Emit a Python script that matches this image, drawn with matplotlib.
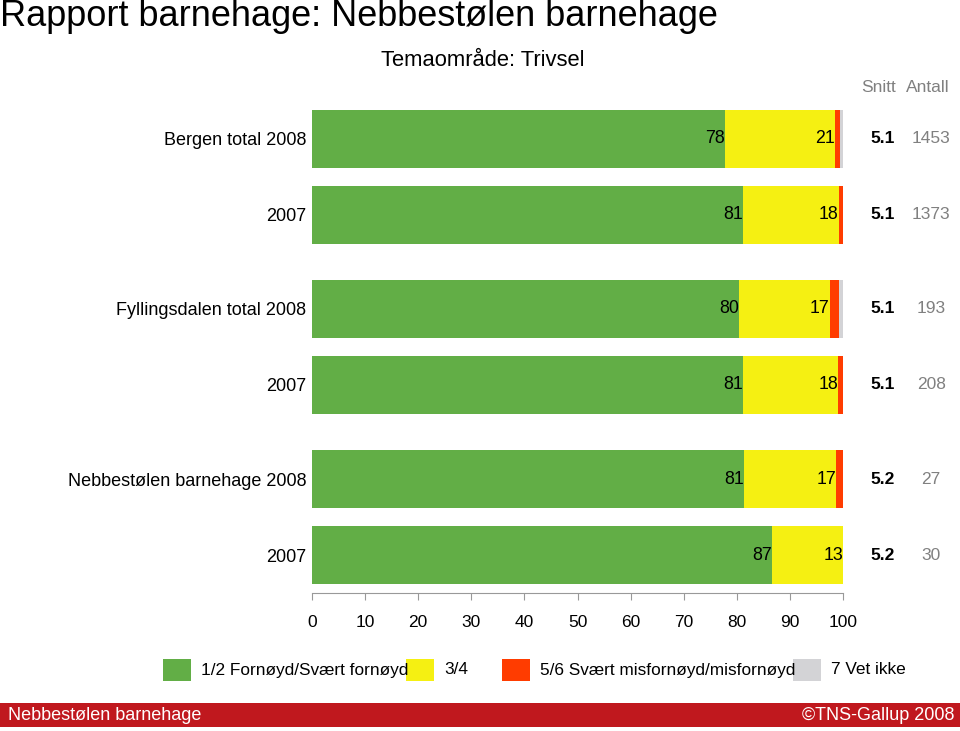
import numpy as np
import matplotlib.pyplot as plt
from matplotlib.patches import Rectangle

plt.rcParams['font.family'] = ['Liberation Sans', 'DejaVu Sans']

groups = ["Bergen total", "Fyllingsdalen total", "Nebbestølen barnehage"]
years = ["2008", "2007"]

satisfied = [77.8, 81.2, 80.4, 81.2, 81.4, 86.7]
neutral = [20.6, 18.0, 17.1, 17.9, 17.3, 13.3]
unsatisfied = [1.0, 0.8, 1.8, 0.9, 1.3, 0.0]
dont_know = [0.6, 0.0, 0.7, 0.0, 0.0, 0.0]

snitt = ["5.1", "5.1", "5.1", "5.1", "5.2", "5.2"]
antall = ["1453", "1373", "193", "208", "27", "30"]

legend_labels = ["1/2 Fornøyd/Svært fornøyd", "3/4", "5/6 Svært misfornøyd/misfornøyd", "7 Vet ikke"]
colors = ["#62AE46", "#F5F012", "#FF3C00", "#D3D3D6"]


def main():
    fig = plt.figure(figsize=(9.6, 7.31), dpi=100)
    W, H = 960, 731

    ax = fig.add_axes([312 / W, 138 / H, 531 / W, 493 / H])

    pos = []
    labels = []
    for g, name in enumerate(groups):
        for s, yr in enumerate(years):
            pos.append(g * 2.237 + s)
            labels.append(name + " " + yr if s == 0 else yr)
    pos = np.array(pos)

    series = [satisfied, neutral, unsatisfied, dont_know]
    left = np.zeros(len(pos))
    for vals, c in zip(series, colors):
        vals = np.array(vals)
        ax.barh(pos, vals, left=left, height=0.763, color=c, edgecolor="none")
        left += vals

    # value labels inside bars
    for i, y in enumerate(pos):
        ax.text(satisfied[i], y, "%.0f" % satisfied[i], ha="right", va="center", fontsize=12.8)
        ax.text(satisfied[i] + neutral[i], y, "%.0f" % neutral[i], ha="right", va="center", fontsize=12.8)
        ax.text(107.5, y, snitt[i], ha="center", va="center", fontsize=12.5, fontweight="bold", clip_on=False)
        ax.text(116.6, y, antall[i], ha="center", va="center", fontsize=12.5, color="#808080", clip_on=False)

    ax.set_xlim(0, 100)
    ax.set_ylim(5.974, -0.513)
    ax.set_xticks(np.arange(0, 101, 10))
    ax.set_yticks(pos)
    ax.set_yticklabels(labels, fontsize=13)
    ax.tick_params(axis="y", length=0, pad=4)
    ax.tick_params(axis="x", length=5, color="#999999", labelsize=12.5, pad=11)
    for sp in ["left", "right", "top"]:
        ax.spines[sp].set_visible(False)
    ax.spines["bottom"].set_color("#999999")

    # titles
    fig.text(0 / W, 1 - 16 / H, "Rapport barnehage: Nebbestølen barnehage", fontsize=26, va="center", ha="left")
    fig.text(483 / W, 1 - 60 / H, "Temaområde: Trivsel", fontsize=15.8, va="center", ha="center")
    fig.text(879 / W, 1 - 88 / H, "Snitt", fontsize=12.5, va="center", ha="center", color="#808080")
    fig.text(928 / W, 1 - 88 / H, "Antall", fontsize=12.5, va="center", ha="center", color="#808080")

    # legend
    box_x = [163, 406, 502, 793]
    for bx, c, lab in zip(box_x, colors, legend_labels):
        fig.patches.append(Rectangle((bx / W, 1 - 681 / H), 28 / W, 22 / H, transform=fig.transFigure,
                                     facecolor=c, edgecolor="none"))
        fig.text((bx + 38) / W, 1 - 670 / H, lab, fontsize=12.4, va="center", ha="left")

    # footer
    fig.patches.append(Rectangle((0, 1 - 727 / H), 1, 24 / H, transform=fig.transFigure,
                                 facecolor="#C0181E", edgecolor="none"))
    fig.text(8 / W, 1 - 715 / H, "Nebbestølen barnehage", fontsize=13, va="center", ha="left", color="white")
    fig.text(955 / W, 1 - 715 / H, "©TNS-Gallup 2008", fontsize=13, va="center", ha="right", color="white")

    fig.savefig("out.png", dpi=100)


if __name__ == "__main__":
    main()
